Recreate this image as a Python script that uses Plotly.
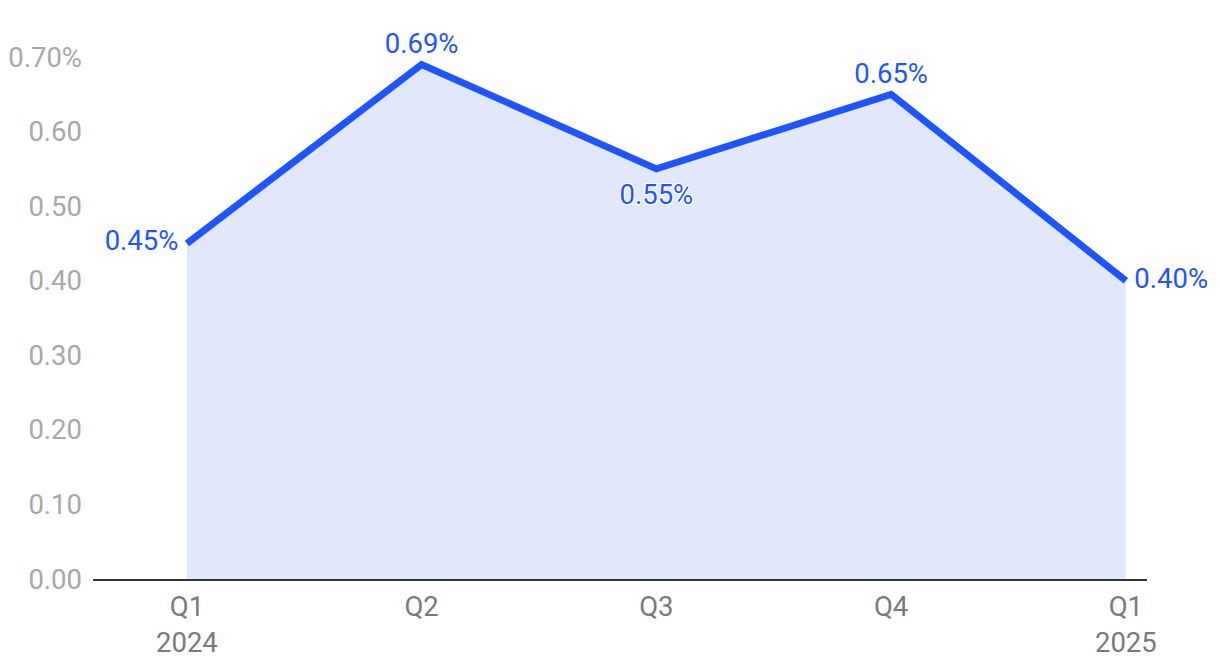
import plotly.graph_objects as go

categories = ["Q1<br>2024", "Q2", "Q3", "Q4", "Q1<br>2025"]
values = [0.45, 0.69, 0.55, 0.65, 0.40]
labels = ["0.45%", "0.69%", "0.55%", "0.65%", "0.40%"]
text_positions = ["middle left", "top center", "bottom center", "top center", "middle right"]
label_gap = [12, 6, 22, 6, 12]
y_ticks = [0, 0.1, 0.2, 0.3, 0.4, 0.5, 0.6, 0.7]
y_tick_labels = ["0.00", "0.10", "0.20", "0.30", "0.40", "0.50", "0.60", "0.70%"]

FONT = "Roboto"
BLUE = "#1f55ff"
FS = 27.5

x = list(range(len(categories)))

fig = go.Figure()
fig.add_trace(go.Scatter(
    x=x, y=values, mode="lines+markers+text",
    line=dict(color=BLUE, width=7),
    marker=dict(size=label_gap, color="rgba(0,0,0,0)", opacity=0,
                line=dict(width=0, color="rgba(0,0,0,0)")),
    fill="tozeroy", fillcolor="#e1e8fd",
    text=labels, textposition=text_positions,
    textfont=dict(family=FONT, size=FS, color=BLUE,
                  shadow="1px 1px 0 white, -1px -1px 0 white, 1px -1px 0 white, -1px 1px 0 white"),
    cliponaxis=False, hoverinfo="skip",
))

# body has an 8px default margin in the page; compensate in the margins
fig.update_layout(
    width=1220, height=664,
    margin=dict(l=85, r=81, t=49, b=93, autoexpand=False),
    paper_bgcolor="white", plot_bgcolor="white",
    showlegend=False,
    xaxis=dict(
        range=[-0.4, 4.09], tickvals=x, ticktext=categories,
        showgrid=False, zeroline=False,
        showline=True, linecolor="#333333", linewidth=2,
        ticks="", tickfont=dict(family=FONT, size=FS, color="#7a7a7a"),
        ticklabelstandoff=2, automargin=False,
    ),
    yaxis=dict(
        range=[0, 0.7], tickvals=y_ticks, ticktext=y_tick_labels,
        showgrid=False, zeroline=False, showline=False,
        ticks="", tickfont=dict(family=FONT, size=FS, color="#a8a8a8"),
        ticklabelstandoff=10, automargin=False,
    ),
)

fig.write_html("out.html")
